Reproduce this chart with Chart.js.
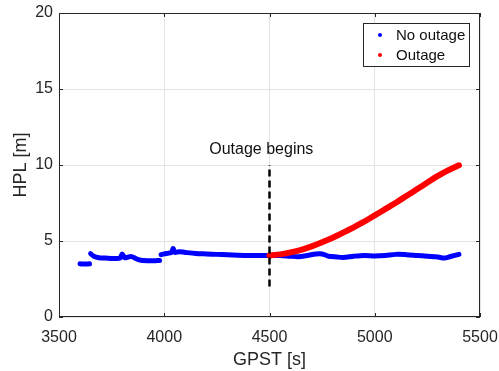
<!DOCTYPE html>
<html lang="en">
<head>
  <meta charset="UTF-8" />
  <title>HPL during outage</title>
  <script src="https://cdn.jsdelivr.net/npm/chart.js"></script>
  <style>
    body {
      margin: 0;
      background: #ffffff;
    }

    .wrap {
      width: 499px;
      height: 371px;
    }
  </style>
</head>
<body>

  <div class="wrap">
    <canvas id="hplChart"></canvas>
  </div>

  <script>
    // GPST [s] / HPL [m]. null = gap in the track
    const tNoOutage = [3600, 3620, 3645, null,
      3650, 3665, 3690, 3720, 3760, 3790, 3800, 3812, 3830, 3845, 3865, 3883, 3920, 3950, 3978, null,
      3985, 4000, 4020, 4035, 4042, 4050, 4070, 4100, 4150, 4200, 4250, 4300, 4350, 4400, 4450, 4500,
      4550, 4600, 4636, 4680, 4720, 4750, 4780, 4820, 4850, 4900, 4950, 5000, 5050, 5100, 5150, 5200,
      5250, 5300, 5330, 5360, 5400];
    const hplNoOutage = [3.5, 3.48, 3.5, null,
      4.17, 4.0, 3.9, 3.88, 3.85, 3.88, 4.15, 3.9, 3.95, 3.97, 3.85, 3.75, 3.7, 3.7, 3.72, null,
      4.1, 4.15, 4.2, 4.25, 4.5, 4.25, 4.3, 4.25, 4.18, 4.15, 4.12, 4.1, 4.07, 4.05, 4.05, 4.05,
      4.05, 4.0, 3.97, 4.05, 4.15, 4.15, 4.0, 3.95, 3.92, 4.0, 4.05, 4.02, 4.05, 4.12, 4.1, 4.05,
      4.0, 3.95, 3.88, 3.98, 4.12];

    const tOutage = [4500, 4550, 4600, 4650, 4700, 4750, 4800, 4850, 4900, 4950,
      5000, 5050, 5100, 5150, 5200, 5250, 5300, 5350, 5400];
    const hplOutage = [4.05, 4.12, 4.25, 4.42, 4.65, 4.92, 5.22, 5.55, 5.9, 6.28,
      6.68, 7.1, 7.52, 7.96, 8.4, 8.85, 9.28, 9.66, 9.98];

    const outageStart = 4500;
    const markerSpan = [2, 10];

    const xTicks = [3500, 4000, 4500, 5000, 5500];
    const yTicks = [0, 5, 10, 15, 20];

    const seriesLabels = ['No outage', 'Outage'];
    const noteText = 'Outage begins';

    const FONT = "'Liberation Sans', Arial, sans-serif";
    const INK = '#262626';

    function toPoints(xs, ys) {
      return xs.map((x, i) => ({ x: x, y: ys[i] }));
    }

    // box, inward ticks, note text and the legend, matlab style
    const framePlugin = {
      id: 'frame',
      afterDraw(chart) {
        const ctx = chart.ctx;
        const a = chart.chartArea;
        const xs = chart.scales.x;
        const ys = chart.scales.y;

        ctx.save();
        ctx.strokeStyle = INK;
        ctx.lineWidth = 1;
        ctx.strokeRect(a.left + 0.5, a.top + 0.5, a.right - a.left - 1, a.bottom - a.top - 1);

        ctx.beginPath();
        xTicks.forEach(v => {
          const px = Math.round(xs.getPixelForValue(v)) + 0.5;
          ctx.moveTo(px, a.bottom); ctx.lineTo(px, a.bottom - 4);
          ctx.moveTo(px, a.top); ctx.lineTo(px, a.top + 4);
        });
        yTicks.forEach(v => {
          const py = Math.round(ys.getPixelForValue(v)) + 0.5;
          ctx.moveTo(a.left, py); ctx.lineTo(a.left + 4, py);
          ctx.moveTo(a.right, py); ctx.lineTo(a.right - 4, py);
        });
        ctx.stroke();

        // note above the dashed marker
        ctx.fillStyle = '#111';
        ctx.font = '16px ' + FONT;
        ctx.textAlign = 'center';
        ctx.textBaseline = 'middle';
        ctx.fillText(noteText, xs.getPixelForValue(4461), ys.getPixelForValue(11.0));

        // legend box, top right inside the axes
        const lw = 106, lh = 43;
        const lx = a.right - 11 - lw;
        const ly = a.top + 10;
        ctx.fillStyle = '#fff';
        ctx.fillRect(lx, ly, lw, lh);
        ctx.strokeStyle = INK;
        ctx.strokeRect(lx + 0.5, ly + 0.5, lw, lh);

        ctx.font = '15px ' + FONT;
        ctx.textAlign = 'left';
        [0, 1].forEach(i => {
          const ds = chart.data.datasets[i];
          const cy = ly + 12 + i * 20;
          ctx.fillStyle = ds.borderColor;
          ctx.beginPath();
          ctx.arc(lx + 17, cy, 2, 0, Math.PI * 2);
          ctx.fill();
          ctx.fillStyle = '#111';
          ctx.fillText(ds.label, lx + 33, cy + 1);
        });
        ctx.restore();
      }
    };

    const ctx = document.getElementById('hplChart').getContext('2d');

    const hplChart = new Chart(ctx, {
      type: 'scatter',
      data: {
        datasets: [
          {
            label: seriesLabels[0],
            data: toPoints(tNoOutage, hplNoOutage),
            borderColor: '#0000ff',
            backgroundColor: '#0000ff',
            showLine: true,
            spanGaps: false,
            borderWidth: 5,
            borderCapStyle: 'round',
            borderJoinStyle: 'round',
            pointRadius: 0,
            tension: 0.3,
            order: 3
          },
          {
            label: seriesLabels[1],
            data: toPoints(tOutage, hplOutage),
            borderColor: '#ff0000',
            backgroundColor: '#ff0000',
            showLine: true,
            borderWidth: 6,
            borderCapStyle: 'round',
            pointRadius: 0,
            tension: 0.15,
            order: 2
          },
          {
            label: 'marker',
            data: toPoints([outageStart, outageStart], markerSpan),
            borderColor: '#000000',
            showLine: true,
            borderWidth: 2.5,
            borderDash: [7, 4],
            pointRadius: 0,
            order: 1
          }
        ]
      },
      options: {
        responsive: true,
        maintainAspectRatio: false,
        animation: false,
        layout: {
          padding: { left: 0, right: 19, top: 13, bottom: 0 }
        },
        plugins: {
          legend: { display: false },
          tooltip: { enabled: false }
        },
        scales: {
          x: {
            type: 'linear',
            min: xTicks[0],
            max: xTicks[xTicks.length - 1],
            afterBuildTicks: s => { s.ticks = xTicks.map(v => ({ value: v })); },
            afterFit: s => { s.height = 54; s.paddingLeft = 0; s.paddingRight = 0; },
            grid: { color: '#e3e3e3', drawTicks: false },
            border: { display: false },
            ticks: {
              color: INK,
              padding: 11,
              maxRotation: 0,
              callback: v => String(v),
              font: { family: FONT, size: 16 }
            },
            title: {
              display: true,
              text: 'GPST [s]',
              color: INK,
              padding: { top: 4, bottom: 0 },
              font: { family: FONT, size: 18 }
            }
          },
          y: {
            min: yTicks[0],
            max: yTicks[yTicks.length - 1],
            afterBuildTicks: s => { s.ticks = yTicks.map(v => ({ value: v })); },
            afterFit: s => { s.width = 59; s.paddingTop = 0; s.paddingBottom = 0; },
            grid: { color: '#e3e3e3', drawTicks: false },
            border: { display: false },
            ticks: {
              color: INK,
              padding: 6,
              callback: v => String(v),
              font: { family: FONT, size: 16 }
            },
            title: {
              display: true,
              text: 'HPL [m]',
              color: INK,
              padding: { top: 10, bottom: 0 },
              font: { family: FONT, size: 18 }
            }
          }
        }
      },
      plugins: [framePlugin]
    });
  </script>
</body>
</html>
